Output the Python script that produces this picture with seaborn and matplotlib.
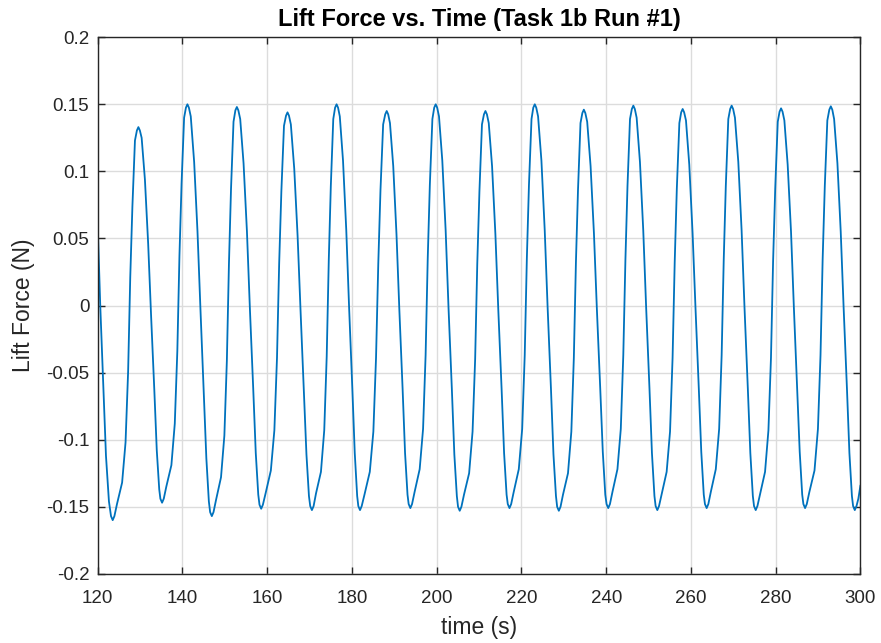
import matplotlib
matplotlib.use("Agg")
import matplotlib.pyplot as plt
import seaborn as sns

# lift force signal (time in s, force in N)
# one row per half cycle: trough -> peak, peak -> next trough
time_s = [
    120.00, 120.60, 121.35, 121.95, 122.65, 123.14,
    123.54, 123.94, 124.55, 125.76, 126.57, 127.18, 127.68, 128.19, 128.79, 129.25,
    129.60, 129.95, 130.37, 131.14, 131.91, 132.59, 133.36, 133.94, 134.52, 134.79,
    135.19, 135.59, 136.19, 137.39, 138.19, 138.79, 139.29, 139.79, 140.39, 140.82,
    141.17, 141.52, 141.96, 142.76, 143.55, 144.25, 145.04, 145.64, 146.23, 146.53,
    146.93, 147.33, 147.92, 149.10, 149.89, 150.48, 150.97, 151.46, 152.05, 152.49,
    152.84, 153.19, 153.63, 154.42, 155.22, 155.91, 156.70, 157.30, 157.89, 158.18,
    158.58, 158.98, 159.62, 160.86, 161.69, 162.31, 162.82, 163.34, 163.96, 164.44,
    164.79, 165.14, 165.58, 166.38, 167.17, 167.87, 168.66, 169.26, 169.85, 170.15,
    170.55, 170.95, 171.52, 172.68, 173.46, 174.04, 174.53, 175.01, 175.59, 176.02,
    176.37, 176.72, 177.13, 177.89, 178.66, 179.32, 180.09, 180.66, 181.23, 181.50,
    181.90, 182.30, 182.95, 184.21, 185.05, 185.68, 186.21, 186.73, 187.36, 187.85,
    188.20, 188.55, 188.97, 189.74, 190.51, 191.18, 191.95, 192.53, 193.11, 193.38,
    193.78, 194.18, 194.78, 195.98, 196.78, 197.38, 197.88, 198.38, 198.98, 199.41,
    199.76, 200.11, 200.54, 201.32, 202.11, 202.79, 203.57, 204.16, 204.75, 205.03,
    205.43, 205.83, 206.44, 207.65, 208.46, 209.07, 209.57, 210.08, 210.68, 211.15,
    211.50, 211.85, 212.28, 213.06, 213.85, 214.53, 215.31, 215.90, 216.49, 216.77,
    217.17, 217.57, 218.17, 219.37, 220.17, 220.77, 221.27, 221.77, 222.37, 222.79,
    223.14, 223.49, 223.92, 224.71, 225.49, 226.18, 226.96, 227.55, 228.14, 228.42,
    228.82, 229.22, 229.80, 230.98, 231.77, 232.36, 232.85, 233.34, 233.93, 234.37,
    234.72, 235.07, 235.51, 236.31, 237.10, 237.80, 238.59, 239.19, 239.78, 240.08,
    240.48, 240.88, 241.47, 242.65, 243.44, 244.03, 244.53, 245.02, 245.61, 246.05,
    246.40, 246.75, 247.18, 247.96, 248.74, 249.43, 250.21, 250.79, 251.38, 251.66,
    252.06, 252.46, 253.06, 254.26, 255.06, 255.66, 256.16, 256.66, 257.26, 257.69,
    258.04, 258.39, 258.82, 259.60, 260.38, 261.07, 261.85, 262.43, 263.02, 263.30,
    263.70, 264.10, 264.68, 265.86, 266.65, 267.24, 267.73, 268.22, 268.81, 269.25,
    269.60, 269.95, 270.38, 271.17, 271.95, 272.64, 273.42, 274.01, 274.60, 274.88,
    275.28, 275.68, 276.28, 277.48, 278.28, 278.88, 279.38, 279.88, 280.48, 280.91,
    281.26, 281.61, 282.04, 282.82, 283.61, 284.29, 285.07, 285.66, 286.25, 286.53,
    286.93, 287.33, 287.94, 289.15, 289.96, 290.57, 291.07, 291.58, 292.18, 292.65,
    293.00, 293.35, 293.78, 294.56, 295.34, 296.03, 296.81, 297.39, 297.98, 298.26,
    298.66, 299.06, 299.50, 300.00,
]

lift_n = [
    0.060, 0.000, -0.063, -0.112, -0.146, -0.157,
    -0.160, -0.157, -0.148, -0.132, -0.102, -0.049, 0.021, 0.074, 0.123, 0.1305,
    0.133, 0.1305, 0.125, 0.094, 0.046, -0.007, -0.063, -0.108, -0.137, -0.144,
    -0.147, -0.144, -0.135, -0.119, -0.088, -0.034, 0.037, 0.091, 0.140, 0.1475,
    0.150, 0.1475, 0.141, 0.107, 0.055, -0.003, -0.065, -0.114, -0.146, -0.154,
    -0.157, -0.154, -0.145, -0.128, -0.097, -0.041, 0.031, 0.087, 0.137, 0.1455,
    0.148, 0.1455, 0.139, 0.106, 0.055, -0.002, -0.062, -0.110, -0.141, -0.1485,
    -0.1515, -0.1485, -0.140, -0.123, -0.093, -0.039, 0.031, 0.085, 0.134, 0.1415,
    0.144, 0.1415, 0.135, 0.102, 0.052, -0.004, -0.064, -0.111, -0.142, -0.1495,
    -0.1525, -0.1495, -0.140, -0.124, -0.093, -0.038, 0.034, 0.089, 0.139, 0.1475,
    0.150, 0.1475, 0.141, 0.108, 0.056, -0.001, -0.062, -0.110, -0.142, -0.1495,
    -0.1525, -0.1495, -0.141, -0.124, -0.094, -0.039, 0.031, 0.086, 0.135, 0.1425,
    0.145, 0.1425, 0.136, 0.104, 0.053, -0.003, -0.062, -0.110, -0.141, -0.148,
    -0.151, -0.148, -0.139, -0.122, -0.092, -0.037, 0.035, 0.090, 0.139, 0.1475,
    0.150, 0.1475, 0.141, 0.108, 0.056, -0.002, -0.062, -0.111, -0.142, -0.150,
    -0.153, -0.150, -0.141, -0.125, -0.094, -0.040, 0.031, 0.085, 0.135, 0.1425,
    0.145, 0.1425, 0.136, 0.104, 0.053, -0.003, -0.062, -0.110, -0.141, -0.148,
    -0.151, -0.148, -0.139, -0.122, -0.092, -0.037, 0.035, 0.090, 0.139, 0.1475,
    0.150, 0.1475, 0.141, 0.108, 0.056, -0.002, -0.062, -0.111, -0.142, -0.150,
    -0.153, -0.150, -0.141, -0.125, -0.094, -0.039, 0.032, 0.086, 0.136, 0.1435,
    0.146, 0.1435, 0.137, 0.104, 0.054, -0.003, -0.062, -0.109, -0.141, -0.148,
    -0.151, -0.148, -0.139, -0.122, -0.092, -0.037, 0.034, 0.089, 0.139, 0.1465,
    0.149, 0.1465, 0.140, 0.107, 0.056, -0.002, -0.062, -0.110, -0.142, -0.1495,
    -0.1525, -0.1495, -0.141, -0.124, -0.094, -0.039, 0.032, 0.087, 0.136, 0.144,
    0.1465, 0.144, 0.138, 0.105, 0.054, -0.002, -0.062, -0.109, -0.141, -0.148,
    -0.151, -0.148, -0.139, -0.122, -0.092, -0.037, 0.034, 0.089, 0.139, 0.1465,
    0.149, 0.1465, 0.140, 0.107, 0.056, -0.002, -0.062, -0.110, -0.142, -0.1495,
    -0.1525, -0.1495, -0.141, -0.124, -0.093, -0.039, 0.033, 0.087, 0.137, 0.1445,
    0.147, 0.1445, 0.138, 0.105, 0.055, -0.002, -0.062, -0.109, -0.141, -0.148,
    -0.151, -0.148, -0.139, -0.123, -0.092, -0.037, 0.034, 0.089, 0.138, 0.146,
    0.1485, 0.146, 0.139, 0.106, 0.055, -0.002, -0.062, -0.110, -0.142, -0.1495,
    -0.1525, -0.1495, -0.144, -0.134,
]

x_ticks = [120, 140, 160, 180, 200, 220, 240, 260, 280, 300]
y_ticks = [-0.2, -0.15, -0.1, -0.05, 0, 0.05, 0.1, 0.15, 0.2]
y_tick_labels = ["-0.2", "-0.15", "-0.1", "-0.05", "0", "0.05", "0.1", "0.15", "0.2"]

sns.set_theme(style="white")
plt.rcParams["font.family"] = ["Liberation Sans", "DejaVu Sans"]
plt.rcParams["axes.unicode_minus"] = False

fig = plt.figure(figsize=(8.81, 6.43), dpi=100)
ax = fig.add_axes([0.1109, 0.1076, 0.8658, 0.8345])

sns.lineplot(x=time_s, y=lift_n, ax=ax, color="#0072BD", linewidth=1.3,
             estimator=None, sort=False)

ax.set_xlim(120, 300)
ax.set_ylim(-0.2, 0.2)
ax.set_xticks(x_ticks)
ax.set_xticklabels([str(t) for t in x_ticks])
ax.set_yticks(y_ticks)
ax.set_yticklabels(y_tick_labels)

ax.grid(True, color="#dcdcdc", linewidth=1.0)
ax.set_axisbelow(True)
for side in ["left", "right", "top", "bottom"]:
    ax.spines[side].set_visible(True)
    ax.spines[side].set_color("#262626")
    ax.spines[side].set_linewidth(1.0)
ax.tick_params(axis="both", which="both", direction="in", length=5, width=1.0,
               color="#262626", labelcolor="#262626", labelsize=13.5,
               top=True, right=True, bottom=True, left=True)
ax.tick_params(axis="x", pad=12)
ax.tick_params(axis="y", pad=6)

ax.set_xlabel("time (s)", fontsize=16.5, color="#262626", labelpad=6)
ax.set_ylabel("Lift Force (N)", fontsize=16.5, color="#262626", labelpad=8)
ax.set_title("Lift Force vs. Time (Task 1b Run #1)", fontsize=17,
             fontweight="bold", color="black", pad=8)

fig.savefig("out.png", dpi=100)
